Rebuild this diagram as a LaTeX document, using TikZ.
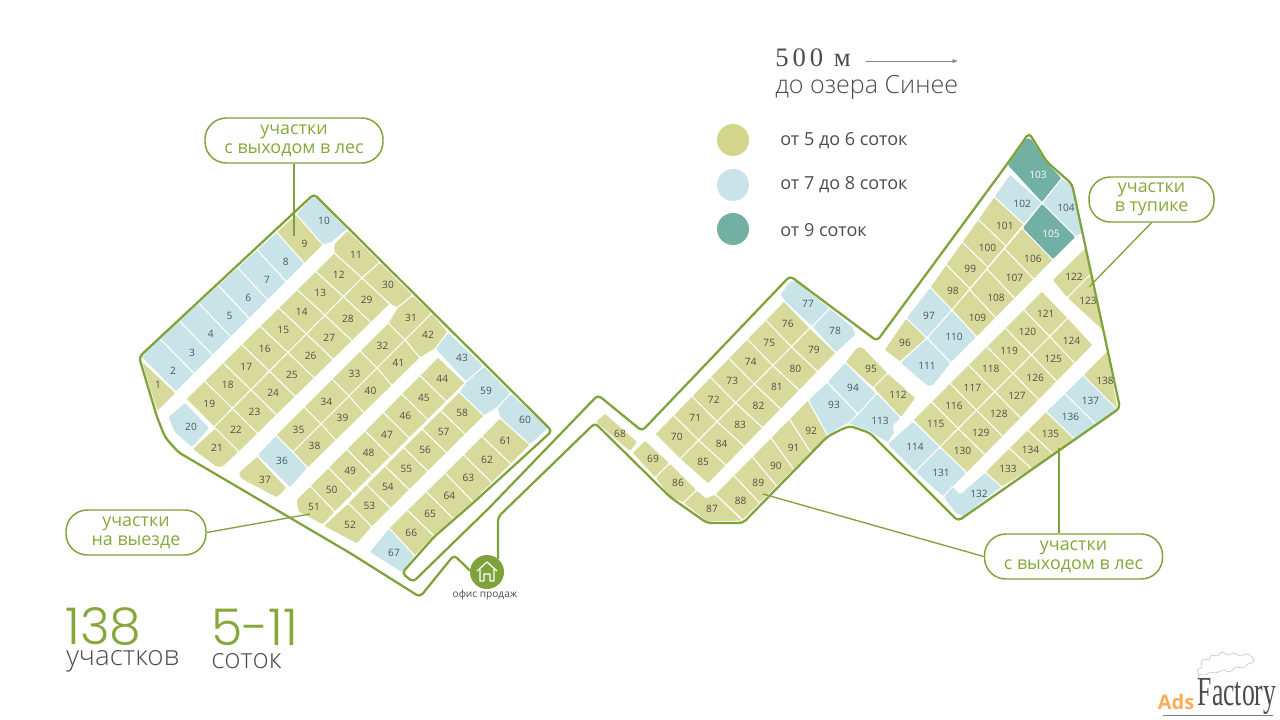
\documentclass[tikz,border=0pt]{standalone}
\usepackage{fontspec}
\usepackage{graphicx}
\usepackage{tikz}
\usetikzlibrary{calc}
\setmainfont{Open Sans}
\newfontfamily\lightfont{Open Sans Light}
\newfontfamily\wideserif[LetterSpace=15]{Liberation Serif}
\newfontfamily\numfont{Poppins Light}
\newfontfamily\markfont{Liberation Serif}
\definecolor{kg}{HTML}{D8DA9C}
\definecolor{kb}{HTML}{C9E4E9}
\definecolor{kt}{HTML}{72B0A3}
\definecolor{inkg}{HTML}{4F5245}
\definecolor{inkb}{HTML}{4A565C}
\definecolor{inkt}{HTML}{FFFFFF}
\definecolor{lineg}{HTML}{7FA33A}
\definecolor{textg}{HTML}{86A83A}
\definecolor{dark}{HTML}{4A4C50}
\definecolor{legg}{HTML}{D3D68A}

% one row of lots: [place of the numbers] near end to end, far end to end, number of lots, lots
\newcommand{\plotrow}[6][.5]{
        \plotrowb{#1}{#2}{#3}{#4}{#5}{#6}
}
\newcommand{\plotrowb}[7]{
        \foreach \num/\kind [count=\i] in {#7} {
                \pgfmathsetmacro{\ta}{(\i-1)/#6}
                \pgfmathsetmacro{\tb}{\i/#6}
                \pgfmathsetmacro{\tm}{(\i-.5)/#6}
                \path[plot=\kind] ($#2!\ta!#3$) -- ($#2!\tb!#3$) -- ($#4!\tb!#5$) -- ($#4!\ta!#5$) -- cycle;
                \coordinate (ma) at ($#2!\tm!#3$);
                \coordinate (mb) at ($#4!\tm!#5$);
                \node (p\num) at ($(ma)!#1!(mb)$) [plotnum=\kind] {\num};
        }
}
% a lot of its own shape: number, kind, place of the number, outline
\newcommand{\plotpoly}[4]{
        \path[plot=#2, rounded corners=1.2pt] #4 -- cycle;
        \node (p#1) at #3 [plotnum=#2] {#1};
}

\begin{document}
\begin{tikzpicture}[
        x=.75pt, y=-.75pt,
        plot/.style = {fill=k#1, draw=white, line width=.7pt},
        plotnum/.style = {text=ink#1, inner sep=0pt, font=\fontsize{7.6}{9}\selectfont},
        callout/.style = {draw=lineg, line width=1.1pt, fill=white, rounded corners=16pt, minimum width=#1, minimum height=33.75pt, inner sep=0pt,
                align=center, text=textg, font=\fontsize{13.4}{14.2}\selectfont},
        legdot/.style = {circle, fill=#1, minimum size=24pt, inner sep=0pt},
        legtext/.style = {anchor=west, inner sep=0pt, text=dark, font=\fontsize{13.5}{15}\selectfont},
        border/.style = {draw=lineg, line width=1.7pt},
        leader/.style = {draw=lineg, line width=1pt},
        >=latex
        ]
        \useasboundingbox (0,0) rectangle (1280,720);

        % left field
        \plotpoly{1}{g}{(158,385)}{(141,360) -- (176,393) -- (157,412)}
        \plotrow[.66]{(140,356)}{(296,214)}{(176,392)}{(323,245)}{8}{2/b,3/b,4/b,5/b,6/b,7/b,8/b,9/g}
        \plotpoly{10}{b}{(324,221)}{(296,214) -- (312,197) -- (316,197) -- (348,229) -- (331,243) -- (323,245)}
        \plotpoly{11}{g}{(356,255)}{(334,253) -- (334,244) -- (348,230) -- (380,262) -- (362,278)}
        \plotrow{(186,399)}{(334,253)}{(214,427)}{(362,278)}{8}{19/g,18/g,17/g,16/g,15/g,14/g,13/g,12/g}
        \plotrow{(214,427)}{(362,278)}{(239,452)}{(390,304)}{8}{22/g,23/g,24/g,25/g,26/g,27/g,28/g,29/g}
        \plotpoly{20}{b}{(191,427)}{(168,417) -- (185,402) -- (210,428) -- (192,448) -- (174,432)}
        \plotpoly{21}{g}{(217,448)}{(192,449) -- (215,428) -- (239,452) -- (223,467) -- (216,467)}
        \plotpoly{30}{g}{(388,285)}{(380,262) -- (413,295) -- (397,308) -- (390,304) -- (362,278)}
        \plotpoly{31}{g}{(411,318)}{(413,295) -- (432,313) -- (405,340) -- (388,323) -- (397,308)}
        \plotpoly{42}{g}{(428,335)}{(432,313) -- (448,332) -- (435,349) -- (420,358) -- (405,340)}
        \plotrow{(388,323)}{(276,435)}{(405,340)}{(293,452)}{4}{32/g,33/g,34/g,35/g}
        \plotrow{(405,340)}{(293,452)}{(420,358)}{(308,468)}{4}{41/g,40/g,39/g,38/g}
        \plotpoly{36}{b}{(282,461)}{(276,435) -- (308,468) -- (290,488) -- (257,455)}
        \plotpoly{37}{g}{(265,480)}{(257,456) -- (287,488) -- (277,498) -- (241,479) -- (238,473)}
        \plotpoly{43}{b}{(462,358)}{(448,332) -- (484,366) -- (466,382) -- (435,349)}
        \plotpoly{59}{b}{(486,391)}{(466,382) -- (484,366) -- (511,393) -- (497,408) -- (484,416) -- (459,392)}
        \plotpoly{60}{b}{(525,420)}{(497,408) -- (511,393) -- (549,428) -- (530,445) -- (500,418)}
        \plotrow{(438,357)}{(310,486)}{(465,383)}{(335,512)}{7}{44/g,45/g,46/g,47/g,48/g,49/g,50/g}
        \plotrow{(459,392)}{(348,503)}{(484,416)}{(372,527)}{6}{58/g,57/g,56/g,55/g,54/g,53/g}
        \plotpoly{51}{g}{(314,507)}{(310,486) -- (335,512) -- (323,525) -- (298,512) -- (296,500)}
        \plotpoly{52}{g}{(350,525)}{(348,503) -- (372,527) -- (357,544) -- (323,526)}
        \plotrow{(500,418)}{(445,473)}{(530,445)}{(473,502)}{3}{61/g,62/g,63/g}
        \plotrow{(445,473)}{(407,510)}{(473,502)}{(434,536)}{2}{64/g,65/g}
        \plotrow{(407,510)}{(389,528)}{(434,536)}{(415,556)}{1}{66/g}
        \plotpoly{67}{b}{(394,553)}{(389,528) -- (415,556) -- (402,573) -- (369,552)}

        % middle field
        \plotpoly{68}{g}{(620,434)}{(605,413) -- (638,442) -- (630,452) -- (595,422)}
        \plotpoly{69}{g}{(653,459)}{(645,440) -- (670,463) -- (655,478) -- (632,453)}
        \plotpoly{86}{g}{(678,483)}{(670,463) -- (697,490) -- (683,503) -- (670,497) -- (655,478)}
        \plotpoly{87}{g}{(712,509)}{(697,490) -- (706,498) -- (715,494) -- (743,521) -- (707,522) -- (683,503)}
        \plotrow[.6]{(715,494)}{(808,400)}{(743,520)}{(828,436)}{5}{88/g,89/g,90/g,91/g,92/g}
        \plotrow{(655,434)}{(784,301)}{(680,459)}{(810,328)}{7}{70/g,71/g,72/g,73/g,74/g,75/g,76/g}
        \plotrow{(680,459)}{(810,328)}{(708,484)}{(836,353)}{7}{85/g,84/g,83/g,82/g,81/g,80/g,79/g}
        \plotpoly{77}{b}{(808,304)}{(780,294) -- (790,281) -- (796,281) -- (830,308) -- (812,327) -- (784,301)}
        \plotpoly{78}{b}{(835,331)}{(812,327) -- (830,308) -- (853,327) -- (856,335) -- (836,353)}
        \plotpoly{93}{b}{(834,405)}{(808,400) -- (827,382) -- (858,414) -- (849,423) -- (838,429) -- (828,436)}
        \plotpoly{94}{b}{(853,388)}{(827,382) -- (845,362) -- (877,394) -- (858,414)}
        \plotpoly{95}{g}{(871,369)}{(845,362) -- (857,347) -- (863,347) -- (888,373) -- (873,388)}
        \plotpoly{112}{g}{(898,395)}{(873,388) -- (888,373) -- (916,398) -- (901,418)}
        \plotpoly{113}{b}{(880,421)}{(858,414) -- (877,393) -- (901,418) -- (893,426) -- (895,432) -- (888,443) -- (870,432) -- (860,428) -- (848,424)}

        % right field
        \plotpoly{96}{g}{(905,343)}{(884,350) -- (906,318) -- (927,338) -- (900,362)}
        \plotpoly{97}{b}{(929,316)}{(906,318) -- (930,287) -- (952,310) -- (927,338)}
        \plotpoly{110}{b}{(954,337)}{(927,338) -- (952,310) -- (977,337) -- (951,363)}
        \plotpoly{111}{b}{(927,366)}{(900,363) -- (927,338) -- (951,363) -- (933,386) -- (927,386)}
        \plotrow[.65]{(930,287)}{(1010,174)}{(952,310)}{(1042,203)}{5}{98/g,99/g,100/g,101/g,102/b}
        \plotrow[.65]{(952,310)}{(1022,228)}{(977,337)}{(1053,260)}{4}{109/g,108/g,107/g,106/g}
        \plotpoly{103}{t}{(1038,175)}{(1007,165) -- (1026,138) -- (1031,138) -- (1047,162) -- (1062,178) -- (1042,203)}
        \plotpoly{104}{b}{(1066,208)}{(1042,203) -- (1062,178) -- (1073,186) -- (1084,232) -- (1076,237)}
        \plotpoly{105}{t}{(1051,234)}{(1022,228) -- (1042,203) -- (1076,237) -- (1053,260)}
        \plotpoly{122}{g}{(1074,277)}{(1052,280) -- (1086,247) -- (1092,273) -- (1067,298)}
        \plotpoly{123}{g}{(1088,301)}{(1067,298) -- (1092,273) -- (1105,333)}
        \plotrow{(913,420)}{(1042,291)}{(940,447)}{(1068,318)}{7}{115/g,116/g,117/g,118/g,119/g,120/g,121/g}
        \plotrow{(940,447)}{(1068,318)}{(967,473)}{(1093,345)}{7}{130/g,129/g,128/g,127/g,126/g,125/g,124/g}
        \plotpoly{114}{b}{(915,447)}{(913,421) -- (940,447) -- (915,472) -- (887,444)}
        \plotpoly{131}{b}{(941,473)}{(940,447) -- (967,473) -- (943,497) -- (915,472)}
        \plotpoly{132}{b}{(979,494)}{(943,497) -- (953,486) -- (960,494) -- (985,472) -- (1002,487) -- (963,517) -- (955,513)}
        \plotpoly{133}{g}{(1008,469)}{(985,472) -- (1009,448) -- (1032,469) -- (1002,487)}
        \plotrow{(1009,448)}{(1083,375)}{(1032,469)}{(1118,410)}{4}{134/g,135/g,136/b,137/b}
        \plotpoly{138}{g}{(1105,381)}{(1083,375) -- (1108,350) -- (1118,410)}

        % office and outline
        \node (office) at (487,572) [circle, fill=lineg, minimum size=25.5pt, inner sep=0pt] {};
        \node (officetext) at (485,595) [inner sep=0pt, text=dark, font=\fontsize{7.6}{8}\selectfont] {офис продаж};
        \draw[white, line width=.9pt, line join=round] (477,571) -- (487,562) -- (497,571)
                (480,569) -- (480,581) -- (484,581) -- (484,574) -- (490,574) -- (490,581) -- (494,581) -- (494,569);
        \draw[border, rounded corners=3pt] (office.175) -- (454,555) -- (420,597) -- (350,553) -- (178,452)
                -- (165,437) -- (157,417) -- (139,357) -- (314,194) -- (552,431) -- (473,503) -- (434,537) -- (402,573)
                -- (413,582) -- (490,507) -- (598,395) -- (642,431) -- (790,276)
                -- (877,341) -- (1005,167) -- (1029,133) -- (1047,162) -- (1072,184) -- (1120,408) -- (958,521)
                -- (870,433) -- (850,426) -- (840,430) -- (827,437) -- (743,523) -- (707,523) -- (670,497)
                -- (595,423) -- (498,517) -- (office.50);

        % callouts
        \node (boxa) at (294,140.5) [callout=133.5pt] {участки\\с выходом в лес};
        \node (boxb) at (136,532.5) [callout=105pt] {участки\\на выезде};
        \node (boxc) at (1151.5,199.5) [callout=93.75pt] {участки\\в тупике};
        \node (boxd) at (1073.5,556.5) [callout=133.5pt] {участки\\с выходом в лес};
        \coordinate (enda) at (294,236);
        \coordinate (endb) at (310,514);
        \coordinate (endc) at (1089,287);
        \coordinate (endd) at (763,494);
        \coordinate (ende) at (1059,448);
        \draw[leader] (boxa.south) -- (enda);
        \draw[leader] (boxb.east) -- (endb);
        \draw[leader] (boxc.south) -- (endc);
        \draw[leader] (boxd.west) -- (endd);
        \draw[leader] (ende |- boxd.north) -- (ende);

        % legend
        \node (lake) at (775,58) [anchor=west, inner sep=0pt, text=dark, font=\fontsize{20}{22}\wideserif] {500 м};
        \node (lakeb) at (775,87) [anchor=west, inner sep=0pt, text=dark, font=\lightfont\fontsize{18.8}{22}\selectfont] {до озера Синее};
        \coordinate (lakeend) at (958,61);
        \draw[->, gray, line width=.4pt] (866,61) -- (lakeend);
        \node (lega) at (733,140) [legdot=legg] {};
        \node (legb) at (733,185) [legdot=kb] {};
        \node (legc) at (733,229) [legdot=kt] {};
        \node (legta) at (780,141) [legtext] {от 5 до 6 соток};
        \node (legtb) at (780,185) [legtext] {от 7 до 8 соток};
        \node (legtc) at (780,230) [legtext] {от 9 соток};

        % totals
        \node (numa) at (65,627) [anchor=west, inner sep=0pt, text=textg, font=\fontsize{38}{44}\numfont] {138};
        \node (numb) at (211,627) [anchor=west, inner sep=0pt, text=textg, font=\fontsize{38}{44}\numfont] {5-11};
        \node (capa) at (66,661) [anchor=west, inner sep=0pt, text=dark, font=\lightfont\fontsize{20.8}{22}\selectfont] {участков};
        \node (capb) at (211,661) [anchor=west, inner sep=0pt, text=dark, font=\lightfont\fontsize{20.8}{22}\selectfont] {соток};

        % watermark
        \draw[gray!50, line width=.4pt] plot[smooth, tension=.9] coordinates {(1197,680) (1199,674) (1197,670) (1202,667) (1201,662) (1205,659) (1209,660) (1211,655) (1217,656) (1222,652) (1228,655) (1234,653) (1240,656) (1246,654) (1252,657) (1253,662) (1248,664) (1243,668) (1236,667) (1230,672) (1223,670) (1216,673) (1210,672) (1205,675) (1199,674)};
        \node (wma) at (1176,702) [inner sep=0pt, text=orange!65, font=\bfseries\fontsize{15}{16}\selectfont] {Ads};
        \node (wmb) at (1237,696) [inner sep=0pt, text=black!70, font=\markfont\fontsize{31}{32}\selectfont] {\scalebox{.62}[1]{Factory}};
        \fill[gray] (1163,715) rectangle (1273,716);
\end{tikzpicture}
\end{document}
